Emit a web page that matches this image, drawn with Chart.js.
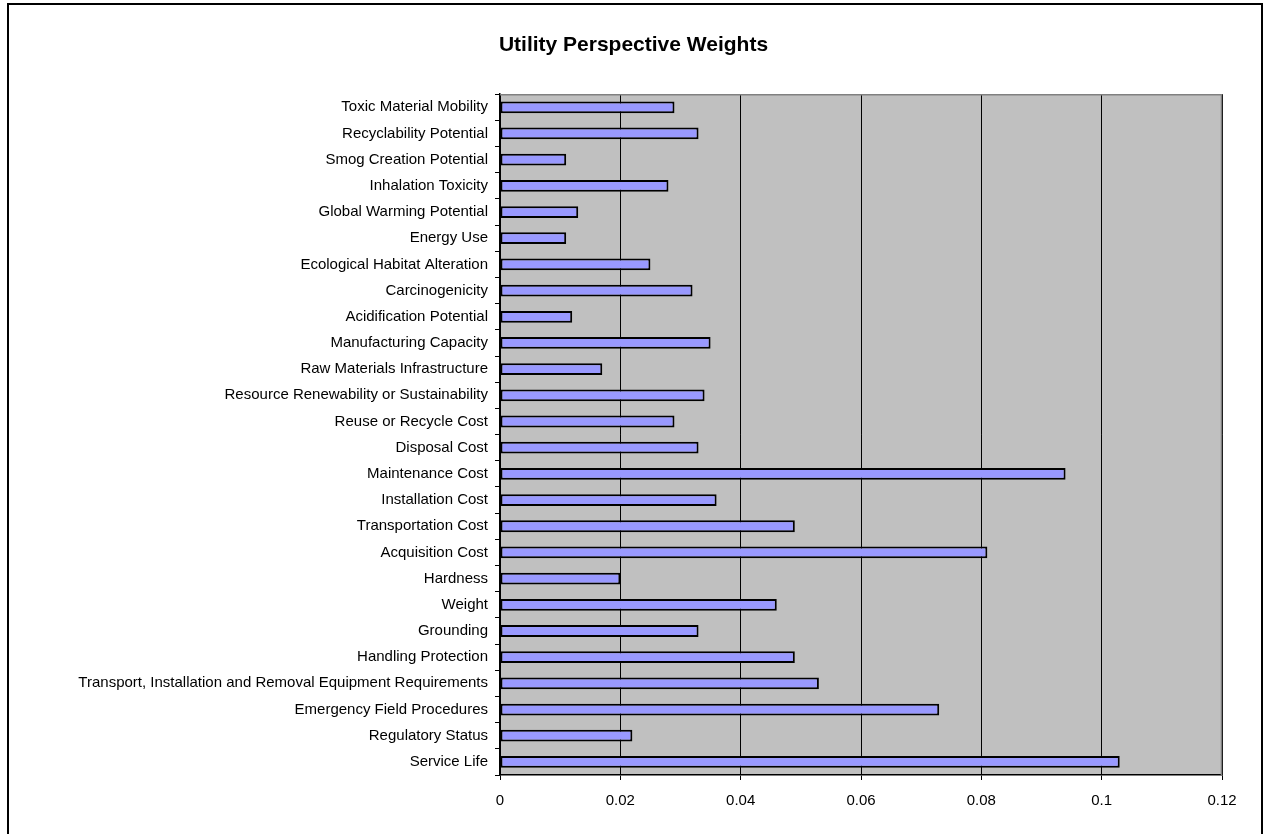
<!DOCTYPE html>
<html>
<head>
<meta charset="utf-8">
<title>Utility Perspective Weights</title>
<script src="https://cdn.jsdelivr.net/npm/chart.js@4.4.1/dist/chart.umd.min.js"></script>
<style>
  html, body { margin: 0; padding: 0; background: #fff; overflow: hidden; }
  #wrap { position: relative; width: 1267px; height: 834px; }
  #frame {
    position: absolute; left: 7px; top: 3px; width: 1256px; height: 840px;
    border: 2px solid #000; box-sizing: border-box; pointer-events: none;
  }
</style>
</head>
<body>
<div id="wrap">
  <canvas id="weightChart" width="1267" height="834"></canvas>
  <div id="frame"></div>
</div>
<script>
// criteria, top to bottom as shown in the chart
const criteria = [
  'Toxic Material Mobility',
  'Recyclability Potential',
  'Smog Creation Potential',
  'Inhalation Toxicity',
  'Global Warming Potential',
  'Energy Use',
  'Ecological Habitat Alteration',
  'Carcinogenicity',
  'Acidification Potential',
  'Manufacturing Capacity',
  'Raw Materials Infrastructure',
  'Resource Renewability or Sustainability',
  'Reuse or Recycle Cost',
  'Disposal Cost',
  'Maintenance Cost',
  'Installation Cost',
  'Transportation Cost',
  'Acquisition Cost',
  'Hardness',
  'Weight',
  'Grounding',
  'Handling Protection',
  'Transport, Installation and Removal Equipment Requirements',
  'Emergency Field Procedures',
  'Regulatory Status',
  'Service Life'
];

const weights = [
  0.029, 0.033, 0.011, 0.028, 0.013, 0.011, 0.025, 0.032, 0.012, 0.035,
  0.017, 0.034, 0.029, 0.033, 0.094, 0.036, 0.049, 0.081, 0.020, 0.046,
  0.033, 0.049, 0.053, 0.073, 0.022, 0.103
];

const xTicks = [0, 0.02, 0.04, 0.06, 0.08, 0.1, 0.12];

// gray plot background + gray top/right edge like the original
const plotArea = {
  id: 'plotArea',
  beforeDraw(chart) {
    const a = chart.chartArea, c = chart.ctx;
    c.save();
    c.fillStyle = '#C0C0C0';
    c.fillRect(a.left, a.top, a.right - a.left, a.bottom - a.top);
    c.restore();
  },
  afterDraw(chart) {
    const a = chart.chartArea, c = chart.ctx;
    c.save();
    c.strokeStyle = '#808080';
    c.lineWidth = 1.5;
    c.beginPath();
    c.moveTo(a.left, a.top + 0.5);
    c.lineTo(a.right - 0.5, a.top + 0.5);
    c.lineTo(a.right - 0.5, a.bottom);
    c.stroke();
    c.restore();
  }
};

Chart.defaults.font.family = '"Liberation Sans", Arial, sans-serif';
Chart.defaults.color = '#000';

const ctx = document.getElementById('weightChart').getContext('2d');
const weightChart = new Chart(ctx, {
  type: 'bar',
  data: {
    labels: criteria,
    datasets: [{
      label: 'Weight',
      data: weights,
      backgroundColor: '#9999FF',
      borderColor: '#000',
      borderWidth: 2,
      borderSkipped: false,
      categoryPercentage: 1,
      barPercentage: 0.45
    }]
  },
  options: {
    indexAxis: 'y',
    responsive: false,
    animation: false,
    layout: { padding: { top: 33, right: 45, bottom: 0, left: 45 } },
    scales: {
      x: {
        min: 0,
        max: 0.12,
        afterBuildTicks(scale) {
          scale.ticks = xTicks.map(v => ({ value: v }));
        },
        afterFit(scale) { scale.height = 59; },
        ticks: {
          font: { size: 15 },
          padding: 12,
          callback: v => String(+v.toFixed(2))
        },
        grid: {
          color: '#000',
          lineWidth: 1,
          tickLength: 5,
          tickColor: '#000'
        },
        border: { color: '#000', width: 1.5 }
      },
      y: {
        afterFit(scale) { scale.width = 455; },
        ticks: { font: { size: 15 }, padding: 7, autoSkip: false },
        grid: {
          drawOnChartArea: false,
          tickLength: 5,
          tickColor: '#000'
        },
        border: { color: '#000', width: 1.5 }
      }
    },
    plugins: {
      title: {
        display: true,
        text: 'Utility Perspective Weights',
        font: { size: 21, weight: 'bold' },
        padding: { top: 0, bottom: 36 }
      },
      legend: { display: false },
      tooltip: { enabled: false }
    }
  },
  plugins: [plotArea]
});
</script>
</body>
</html>
